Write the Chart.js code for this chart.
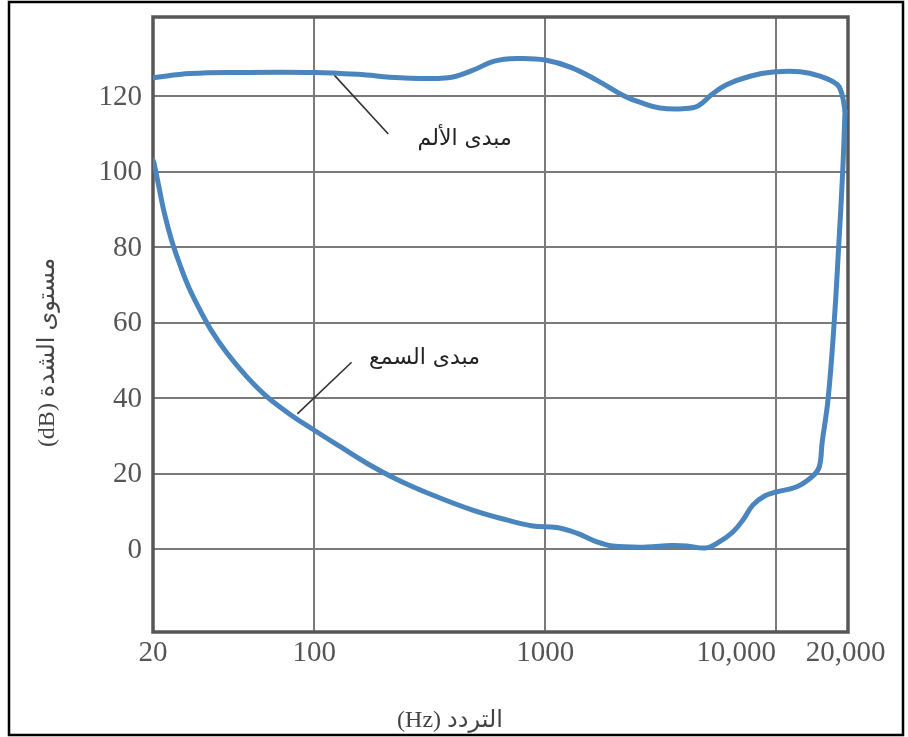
<!DOCTYPE html>
<html>
<head>
<meta charset="utf-8">
<script src="https://cdn.jsdelivr.net/npm/chart.js@4/dist/chart.umd.min.js"></script>
<style>
html,body{margin:0;padding:0;background:#fff;}
canvas{display:block;}
</style>
</head>
<body>
<canvas id="c" width="908" height="737"></canvas>
<script>
// ---- data ----
const painFreq = [20, 29, 48, 100, 154, 236, 379, 478, 602, 765, 1000, 1300, 1700, 2210, 2600, 3140, 3950, 4590, 5280, 6130, 7710, 9700, 12700, 15500, 18400, 19300, 19900];
const painDb   = [124.9, 126, 126.3, 126.3, 125.8, 124.9, 124.9, 126.7, 129.3, 130, 129.6, 127.6, 124, 120, 118.3, 116.9, 116.7, 117.4, 120.5, 123.1, 125.3, 126.4, 126.5, 125.3, 123.1, 120.5, 116];
const hearFreq = [20, 20.2, 21.3, 22.4, 24, 26, 28.7, 32.3, 35.7, 41.5, 50.7, 61.9, 78, 98, 128, 168, 227, 325, 485, 680, 883, 1122, 1370, 1673, 1960, 2750, 3500, 4100, 5000, 5720, 6500, 7190, 7950, 8960, 10000, 12300, 14460, 15400, 15850, 16800, 17850, 18660, 19430, 19900];
const hearDb   = [103, 102.3, 95.4, 89, 82.1, 75.8, 69.1, 62.8, 58, 52.2, 45.8, 40.5, 35.8, 31.8, 27.3, 22.8, 18.5, 14.3, 10.3, 7.7, 6.1, 5.7, 4.2, 1.9, 0.8, 0.5, 0.9, 0.8, 0.3, 2, 4.5, 7.7, 11.7, 14.1, 15.1, 16.5, 19.4, 21.8, 28.4, 39.6, 59.8, 79.7, 99.6, 116];
const xTickValues = [20, 100, 1000, 10000, 20000];
const xTickLabels = ['20', '100', '1000', '10,000', '20,000'];
const xGridValues = [100, 1000, 10000];
const yTickValues = [0, 20, 40, 60, 80, 100, 120];
const yTickLabels = ['0', '20', '40', '60', '80', '100', '120'];
const xTitle = '(Hz) التردد';
const yTitle = '(dB) مستوى الشدة';
const painLabel = 'مبدى الألم';
const hearLabel = 'مبدى السمع';
// annotation anchors in data units (frequency, dB)
const painLeader = [[122, 125.6], [209, 110]];
const painLabelAt = [448, 108.6];
const hearLeader = [[145, 49.5], [84.4, 35.8]];
const hearLabelAt = [300, 50.6];

// ---- styles ----
const curveColor = '#4a85bd';
const gridColor = '#7a7a7a';
const frameColor = '#575757';
const labelColor = '#555';
const serif = '"Liberation Serif", "DejaVu Sans", serif';
const arabic = '"DejaVu Sans", sans-serif';

const toPts = (xs, ys) => xs.map((x, i) => ({x: x, y: ys[i]}));
const lineStyle = {showLine: true, borderColor: curveColor, borderWidth: 5, pointRadius: 0, pointHoverRadius: 0,
  tension: 0.4, borderCapStyle: 'round', borderJoinStyle: 'round'};

const decor = {
  id: 'decor',
  beforeDraw(chart) {
    const ctx = chart.ctx;
    ctx.save();
    ctx.fillStyle = '#fff';
    ctx.fillRect(0, 0, chart.width, chart.height);
    ctx.restore();
  },
  beforeDatasetsDraw(chart) {
    const {ctx, chartArea: a} = chart;
    ctx.save();
    ctx.strokeStyle = frameColor;
    ctx.lineWidth = 3.5;
    ctx.strokeRect(a.left, a.top, a.right - a.left, a.bottom - a.top);
    // leader lines
    const xs = chart.scales.x, ys = chart.scales.y;
    ctx.strokeStyle = '#333';
    ctx.lineWidth = 1.6;
    [painLeader, hearLeader].forEach(l => {
      ctx.beginPath();
      ctx.moveTo(xs.getPixelForValue(l[0][0]), ys.getPixelForValue(l[0][1]));
      ctx.lineTo(xs.getPixelForValue(l[1][0]), ys.getPixelForValue(l[1][1]));
      ctx.stroke();
    });
    ctx.restore();
  },
  afterDraw(chart) {
    const {ctx, chartArea: a} = chart;
    const xs = chart.scales.x, ys = chart.scales.y;
    ctx.save();
    ctx.fillStyle = labelColor;
    ctx.font = '29px ' + serif;
    ctx.textBaseline = 'middle';
    // x tick labels
    xTickValues.forEach((v, i) => {
      const px = xs.getPixelForValue(v);
      ctx.textAlign = (v === 10000) ? 'right' : 'center';
      ctx.fillText(xTickLabels[i], px, a.bottom + 21);
    });
    // y tick labels
    ctx.textAlign = 'right';
    yTickValues.forEach((v, i) => {
      ctx.fillText(yTickLabels[i], a.left - 11, ys.getPixelForValue(v) + 1);
    });
    // axis titles
    ctx.fillStyle = '#444';
    ctx.font = '24px ' + serif;
    ctx.textAlign = 'center';
    ctx.fillText(xTitle, 450, 721);
    ctx.save();
    ctx.translate(48, (a.top + a.bottom) / 2 + 28);
    ctx.rotate(-Math.PI / 2);
    ctx.fillText(yTitle, 0, 0);
    ctx.restore();
    // annotation labels
    ctx.fillStyle = '#222';
    ctx.font = '22px ' + arabic;
    ctx.fillText(painLabel, xs.getPixelForValue(painLabelAt[0]), ys.getPixelForValue(painLabelAt[1]));
    ctx.fillText(hearLabel, xs.getPixelForValue(hearLabelAt[0]), ys.getPixelForValue(hearLabelAt[1]));
    // outer frame
    ctx.strokeStyle = '#000';
    ctx.lineWidth = 2.5;
    ctx.strokeRect(9, 2, 894, 733);
    ctx.restore();
  }
};

new Chart(document.getElementById('c'), {
  type: 'scatter',
  data: {
    datasets: [
      Object.assign({label: painLabel, data: toPts(painFreq, painDb)}, lineStyle),
      Object.assign({label: hearLabel, data: toPts(hearFreq, hearDb)}, lineStyle)
    ]
  },
  options: {
    responsive: false,
    animation: false,
    devicePixelRatio: 1,
    layout: {padding: {left: 153, right: 60, top: 17, bottom: 105}},
    plugins: {legend: {display: false}, tooltip: {enabled: false}},
    scales: {
      x: {
        type: 'logarithmic', min: 20, max: 20500,
        afterBuildTicks: s => { s.ticks = xGridValues.map(v => ({value: v})); },
        ticks: {display: false},
        grid: {color: gridColor, lineWidth: 2, drawTicks: false},
        border: {display: false}
      },
      y: {
        type: 'linear', min: -22, max: 141,
        afterBuildTicks: s => { s.ticks = yTickValues.map(v => ({value: v})); },
        ticks: {display: false},
        grid: {color: gridColor, lineWidth: 2, drawTicks: false},
        border: {display: false}
      }
    }
  },
  plugins: [decor]
});
</script>
</body>
</html>
